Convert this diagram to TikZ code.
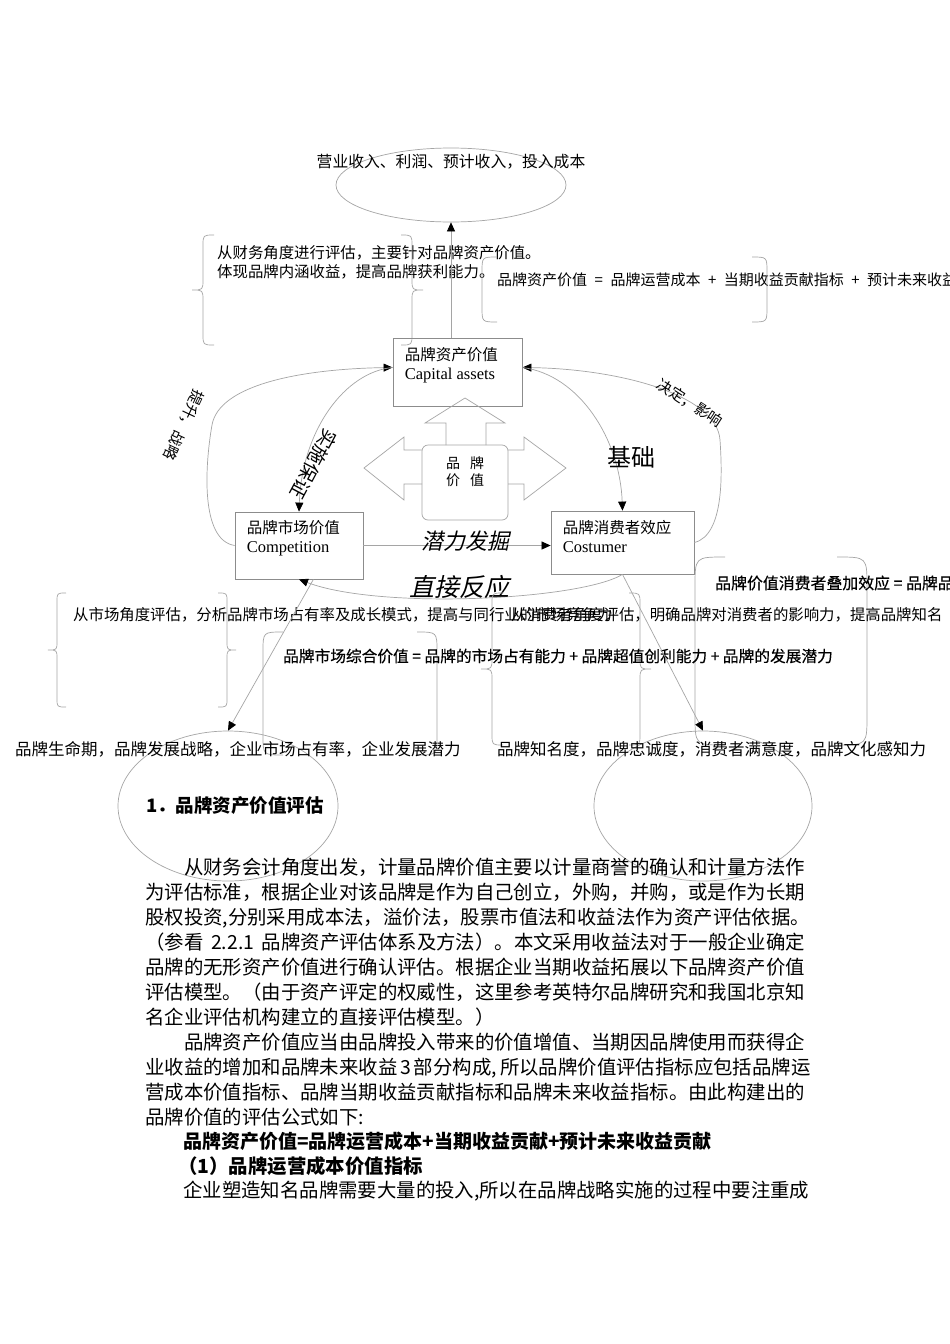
\documentclass[tikz,border=0pt]{standalone}
\usepackage{fontspec}
\setmainfont{Noto Sans CJK SC}
\newfontfamily\enserif{Liberation Serif}
\newfontfamily\cjkslant[FakeSlant=0.22]{Noto Sans CJK SC}
\newfontfamily\cjkmedium[FakeBold=0.4]{Noto Sans CJK SC}
\XeTeXlinebreaklocale "zh"
\XeTeXlinebreakskip=0pt plus 2pt
\usetikzlibrary{shapes.geometric, arrows.meta, positioning}
\definecolor{linegray}{RGB}{165,165,165}
\definecolor{boxgray}{RGB}{140,140,140}
\tikzstyle{valuebox} = [rectangle, draw=boxgray, line width=0.8pt, inner sep=0pt]
\tikzstyle{boxlabel} = [inner sep=0pt, align=left, font=\fontsize{15.5}{19}\selectfont]
\tikzstyle{oval} = [ellipse, draw=linegray, line width=0.7pt, inner sep=0pt]
\tikzstyle{note} = [inner sep=0pt, anchor=west, font=\fontsize{15.4}{19}\selectfont]
\tikzstyle{bodytext} = [inner sep=0pt, anchor=north west, align=left, font=\fontsize{19.4}{24.9}\selectfont]
\tikzstyle{link} = [draw=linegray, line width=0.7pt]
\tikzstyle{arrow} = [link, -{Triangle[color=black, length=9pt, width=8pt]}]
\newcommand\op[1]{\hspace{0.5em}#1\hspace{0.5em}}
\newcommand\fullline[2][660pt]{\hbox to #1{#2}}
% brace and bracket shapes: x, top, bottom, hook
\newcommand\curlyL[4]{\draw [link] (#1+#4,#2) .. controls (#1,#2) .. (#1,#2+#4)
  -- (#1,{(#2+#3)/2-#4}) .. controls (#1,{(#2+#3)/2}) .. (#1-#4,{(#2+#3)/2})
  .. controls (#1,{(#2+#3)/2}) .. (#1,{(#2+#3)/2+#4})
  -- (#1,#3-#4) .. controls (#1,#3) .. (#1+#4,#3);}
\newcommand\curlyR[4]{\draw [link] (#1-#4,#2) .. controls (#1,#2) .. (#1,#2+#4)
  -- (#1,{(#2+#3)/2-#4}) .. controls (#1,{(#2+#3)/2}) .. (#1+#4,{(#2+#3)/2})
  .. controls (#1,{(#2+#3)/2}) .. (#1,{(#2+#3)/2+#4})
  -- (#1,#3-#4) .. controls (#1,#3) .. (#1-#4,#3);}
\newcommand\roundL[4]{\draw [link] (#1+#4,#2) .. controls (#1,#2) .. (#1,#2+#4)
  -- (#1,#3-#4) .. controls (#1,#3) .. (#1+#4,#3);}
\newcommand\roundR[4]{\draw [link] (#1-#4,#2) .. controls (#1,#2) .. (#1,#2+#4)
  -- (#1,#3-#4) .. controls (#1,#3) .. (#1-#4,#3);}

\begin{document}
\begin{tikzpicture}[x=1pt, y=-1pt]
\path [use as bounding box, fill=white] (0,0) rectangle (950,1344);

% top: income oval and finance notes
\node (income) [oval, minimum width=230pt, minimum height=74pt] at (451,185) {};
\node (incometxt) [inner sep=0pt, font=\fontsize{15.8}{19}\selectfont] at (451,162) {营业收入、利润、预计收入，投入成本};
\node (finance) [note, anchor=north west, align=left] at (217,245) {从财务角度进行评估，主要针对品牌资产价值。\\体现品牌内涵收益，提高品牌获利能力。};
\node (assetformula) [note, font=\fontsize{15}{18}\selectfont] at (497,280) {品牌资产价值\op{=}品牌运营成本\op{+}当期收益贡献指标\op{+}预计未来收益};
\curlyL{203}{235}{345}{11}
\curlyR{412}{235}{345}{11}
\roundL{482}{257}{322}{15}
\roundR{767}{257}{322}{15}

% the three value boxes
\node (asset) [valuebox, minimum width=129pt, minimum height=68pt] at (457.5,372) {};
\node (assettxt) [boxlabel, below right=10pt and 12pt of asset.north west] {品牌资产价值\\{\enserif\fontsize{16.5}{19}\selectfont Capital assets}};
\node (market) [valuebox, minimum width=128pt, minimum height=67pt] at (299,545.5) {};
\node (markettxt) [boxlabel, below right=9pt and 12pt of market.north west] {品牌市场价值\\{\enserif\fontsize{16.5}{19}\selectfont Competition}};
\node (consumer) [valuebox, minimum width=143pt, minimum height=63pt] at (622.5,542.5) {};
\node (consumertxt) [boxlabel, below right=10pt and 12pt of consumer.north west] {品牌消费者效应\\{\enserif\fontsize{16.5}{19}\selectfont Costumer}};

% brand value core with block arrows
\draw [link] (446,445) -- (446,423) -- (425,423) -- (465,398) -- (505,423) -- (486,423) -- (486,445);
\draw [link] (422,450) -- (404,450) -- (404,437) -- (364,468) -- (404,500) -- (404,484) -- (422,484);
\draw [link] (508,450) -- (524,450) -- (524,437) -- (566,468) -- (524,500) -- (524,484) -- (508,484);
\node (core) [draw=linegray, line width=0.7pt, rounded corners=6pt, minimum width=86pt, minimum height=75pt, inner sep=0pt] at (465,482.5) {};
\node (coretxt) [inner sep=0pt, align=center, font=\fontsize{14}{17.5}\selectfont] at (465,471.5) {品\hspace{10pt}牌\\价\hspace{10pt}值};

% connectors
\draw [arrow] (asset.north -| income.south) -- (income.south);
\draw [arrow] (market.west) .. controls (200,540) and (205,465) .. (212,425) .. controls (219,385) and (300,369) .. (asset.176);
\draw [arrow] (asset.176) .. controls (345,372) and (302,430) .. (market.north);
\draw [arrow] (consumer.east) .. controls (725,535) and (722,470) .. (720,440) .. controls (717,395) and (620,369) .. (asset.4);
\draw [arrow] (asset.4) .. controls (580,375) and (620,440) .. (consumer.north);
\draw [arrow] (market.east) -- (market.east -| consumer.west);
\draw [arrow] (consumer.south) .. controls (580,600) and (380,610) .. (market.south);

\node (raise) [inner sep=0pt, rotate=-115, font=\fontsize{15}{15}\selectfont] at (184,425) {提升，战略};
\node (ensure) [inner sep=0pt, rotate=-118, font=\fontsize{19}{19}\selectfont] at (314,464) {实施保证};
\node (decide) [inner sep=0pt, rotate=-33, font=\fontsize{15}{15}\selectfont] at (690,403) {决定，影响};
\node (basis) [inner sep=0pt, font=\fontsize{24}{24}\selectfont] at (631,457) {基础};
\node (tap) [inner sep=0pt, font=\cjkslant\fontsize{22}{22}\selectfont] at (465,541) {潜力发掘};
\node (react) [inner sep=0pt, font=\cjkslant\fontsize{25}{25}\selectfont] at (459,587) {直接反应};

% lower notes, braces and brackets
\curlyL{57}{593}{707}{9}
\curlyR{227}{593}{707}{9}
\roundL{263}{632}{755}{20}
\roundR{437}{632}{755}{20}
\curlyL{492}{593}{745}{11}
\curlyR{640}{593}{745}{11}
\roundL{695}{557}{745}{30}
\roundR{867}{557}{745}{30}
\node (markettext) [note] at (73,615) {从市场角度评估，分析品牌市场占有率及成长模式，提高与同行业的市场竞争力};
\node (consumertext) [note] at (511,615) {从消费者角度评估，明确品牌对消费者的影响力，提高品牌知名};
\node (marketformula) [note, font=\cjkmedium\fontsize{15.7}{18}\selectfont] at (283,656) {品牌市场综合价值 = 品牌的市场占有能力 + 品牌超值创利能力 + 品牌的发展潜力};
\node (consumerformula) [note, font=\cjkmedium\fontsize{15.9}{18}\selectfont] at (715,583) {品牌价值消费者叠加效应 = 品牌品};

% the two lower ovals
\node (lifeoval) [oval, minimum width=220pt, minimum height=150pt] at (228,806) {};
\node (fameoval) [oval, minimum width=218pt, minimum height=150pt] at (703,806) {};
\draw [arrow] (market.-67) -- (lifeoval.north);
\draw [arrow] (consumer.south) -- (fameoval.north);
\node (lifetxt) [note, font=\fontsize{16.5}{18}\selectfont] at (15,749) {品牌生命期，品牌发展战略，企业市场占有率，企业发展潜力};
\node (fametxt) [note, font=\fontsize{16.5}{18}\selectfont] at (497,749) {品牌知名度，品牌忠诚度，消费者满意度，品牌文化感知力};

% body text
\node (heading) [note, font=\bfseries\fontsize{18.5}{20}\selectfont] at (146,806) {1．品牌资产价值评估};
\node (para1) [bodytext] at (145,858.3) {\fullline{\hspace*{38.8pt}从财务会计角度出发，计量品牌价值主要以计量商誉的确认和计量方法作}\\
\fullline{为评估标准，根据企业对该品牌是作为自己创立，外购，并购，或是作为长期}\\
\fullline{股权投资,分别采用成本法，溢价法，股票市值法和收益法作为资产评估依据。}\\
\fullline{（参看 2.2.1 品牌资产评估体系及方法）。本文采用收益法对于一般企业确定}\\
\fullline{品牌的无形资产价值进行确认评估。根据企业当期收益拓展以下品牌资产价值}\\
\fullline{评估模型。（由于资产评定的权威性，这里参考英特尔品牌研究和我国北京知}\\
名企业评估机构建立的直接评估模型。）};
\node (para2) [bodytext] at (145,1033.3) {\fullline{\hspace*{38.8pt}品牌资产价值应当由品牌投入带来的价值增值、当期因品牌使用而获得企}\\
\fullline{业收益的增加和品牌未来收益 3 部分构成, 所以品牌价值评估指标应包括品牌运}\\
\fullline{营成本价值指标、品牌当期收益贡献指标和品牌未来收益指标。由此构建出的}\\
品牌价值的评估公式如下:};
\node (formula) [note, font=\bfseries\fontsize{19}{24}\selectfont] at (183,1141) {品牌资产价值=品牌运营成本+当期收益贡献+预计未来收益贡献};
\node (index) [note, font=\bfseries\fontsize{19.4}{24}\selectfont] at (178,1166) {（1）品牌运营成本价值指标};
\node (para3) [note, font=\fontsize{19.4}{24.9}\selectfont] at (183,1191) {\fullline[622pt]{企业塑造知名品牌需要大量的投入,所以在品牌战略实施的过程中要注重成}};

\end{tikzpicture}
\end{document}
